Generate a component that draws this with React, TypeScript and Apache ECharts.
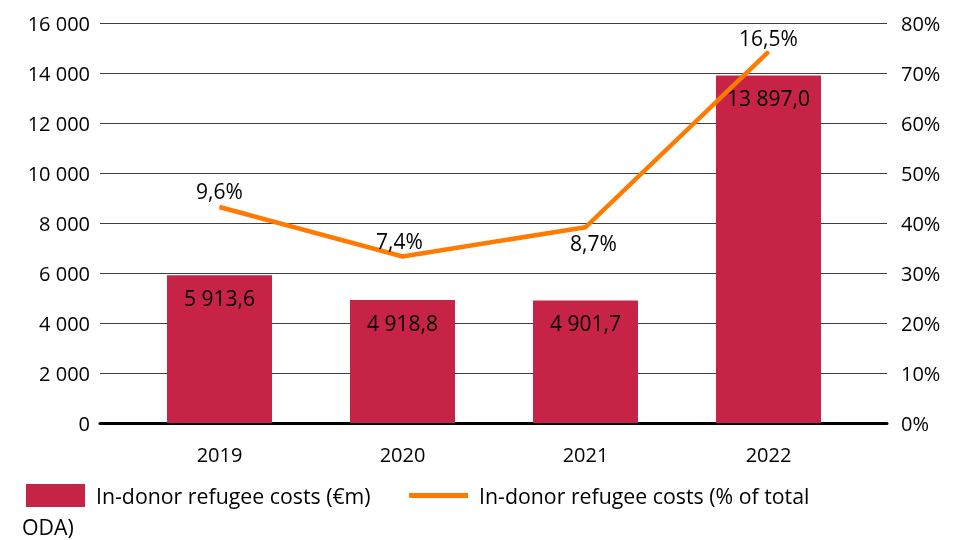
import React, { useEffect, useRef } from "react";
import * as echarts from "echarts";

// ---- data ----
const years = ["2019", "2020", "2021", "2022"];
const costsEurM = [5913.6, 4918.8, 4901.7, 13897.0];
const shareOfOda = [9.6, 7.4, 8.7, 16.5];
const shareLabelPositions = ["top", "top", "bottom", "top"];
const shareLabelOffsets = [[0, 0], [-3, 0], [8, 0], [0, 2]];
const leftTicks = { min: 0, max: 16000, interval: 2000 };
const rightTicks = { min: 0, max: 80, interval: 10 };
// In the source the % line is drawn at 4.5x its value on the 0-80% axis
const LINE_SCALE = 4.5;

const barName = "In-donor refugee costs (€m)";
const lineName = "In-donor refugee costs (% of total ODA)";

const FONT = "Open Sans";
const FS = 20;
const FS_LABEL = 21;
const FS_LEGEND = 21.3;

const fmtThousands = (v: number, decimals = 0) => {
  const s = v.toFixed(decimals);
  const [i, d] = s.split(".");
  const int = i.replace(/\B(?=(\d{3})+(?!\d))/g, " ");
  return d !== undefined ? `${int},${d}` : int;
};

export default function App() {
  const ref = useRef<HTMLDivElement>(null);
  useEffect(() => {
    if (!ref.current) return;
    const chart = echarts.init(ref.current, undefined, { renderer: "svg" });
    const textStyle = { fontFamily: FONT, fontSize: FS, color: "#000" };
    const labelStyle = { fontFamily: FONT, fontSize: FS_LABEL, color: "#000" };
    chart.setOption({
      animation: false,
      textStyle: { fontFamily: FONT },
      grid: [
        { left: 100, right: 75, top: 23, bottom: 117 },
        { left: 128, right: 102, top: 23, bottom: 117 },
      ],
      xAxis: [
        {
          gridIndex: 0,
          type: "value",
          min: 0,
          max: 1,
          axisLine: { show: true, onZero: false, lineStyle: { color: "#000", width: 3 } },
          axisTick: { show: false },
          axisLabel: { show: false },
          splitLine: { show: false },
        },
        {
          gridIndex: 1,
          type: "category",
          data: years,
          axisLine: { show: false },
          axisTick: { show: false },
          axisLabel: { ...textStyle, margin: 21 },
        },
      ],
      yAxis: [
        {
          gridIndex: 0,
          type: "value",
          ...leftTicks,
          axisLine: { show: false },
          axisTick: { show: false },
          axisLabel: { ...textStyle, margin: 10, formatter: (v: number) => fmtThousands(v) },
          splitLine: { lineStyle: { color: "#404040", width: 1 } },
        },
        {
          gridIndex: 0,
          type: "value",
          position: "right",
          ...rightTicks,
          axisLine: { show: false },
          axisTick: { show: false },
          axisLabel: { ...textStyle, margin: 14, formatter: "{value}%" },
          splitLine: { show: false },
        },
        {
          gridIndex: 1,
          type: "value",
          ...leftTicks,
          show: false,
        },
        {
          gridIndex: 1,
          type: "value",
          min: 0,
          max: rightTicks.max / LINE_SCALE,
          show: false,
        },
      ],
      legend: {
        left: 21,
        top: 479,
        itemWidth: 59,
        itemHeight: 23,
        itemGap: 36,
        textStyle: { fontFamily: FONT, fontSize: FS_LEGEND, color: "#000", padding: [0, 0, 0, 6] },
        data: [
          { name: barName, icon: "rect" },
          { name: lineName, itemStyle: { opacity: 0 }, lineStyle: { width: 5 } },
        ],
        formatter: (name: string) =>
          name === lineName ? "In-donor refugee costs (% of total" : name,
      },
      graphic: [
        {
          type: "text",
          left: 22,
          top: 516,
          style: { text: "ODA)", font: `${FS_LEGEND}px "${FONT}"`, fill: "#000" },
        },
      ],
      series: [
        {
          name: barName,
          type: "bar",
          xAxisIndex: 1,
          yAxisIndex: 2,
          data: costsEurM,
          barWidth: 105,
          itemStyle: { color: "#C62346" },
          label: {
            show: true,
            position: "insideTop",
            distance: 12,
            ...labelStyle,
            formatter: (p: any) => fmtThousands(p.value, 1),
          },
        },
        {
          name: lineName,
          type: "line",
          xAxisIndex: 1,
          yAxisIndex: 3,
          symbol: "circle",
          symbolSize: 1,
          showSymbol: true,
          lineStyle: { color: "#FF7A00", width: 4.5 },
          itemStyle: { color: "#FF7A00" },
          data: shareOfOda.map((v, i) => ({
            value: v,
            label: {
              position: shareLabelPositions[i],
              offset: shareLabelOffsets[i],
            },
          })),
          label: {
            show: true,
            distance: 5,
            ...labelStyle,
            formatter: (p: any) => `${String(p.value).replace(".", ",")}%`,
          },
        },
      ],
    });
    return () => chart.dispose();
  }, []);
  return (
    <div
      ref={ref}
      style={{ position: "fixed", left: 0, top: 0, width: 962, height: 540 }}
    />
  );
}
